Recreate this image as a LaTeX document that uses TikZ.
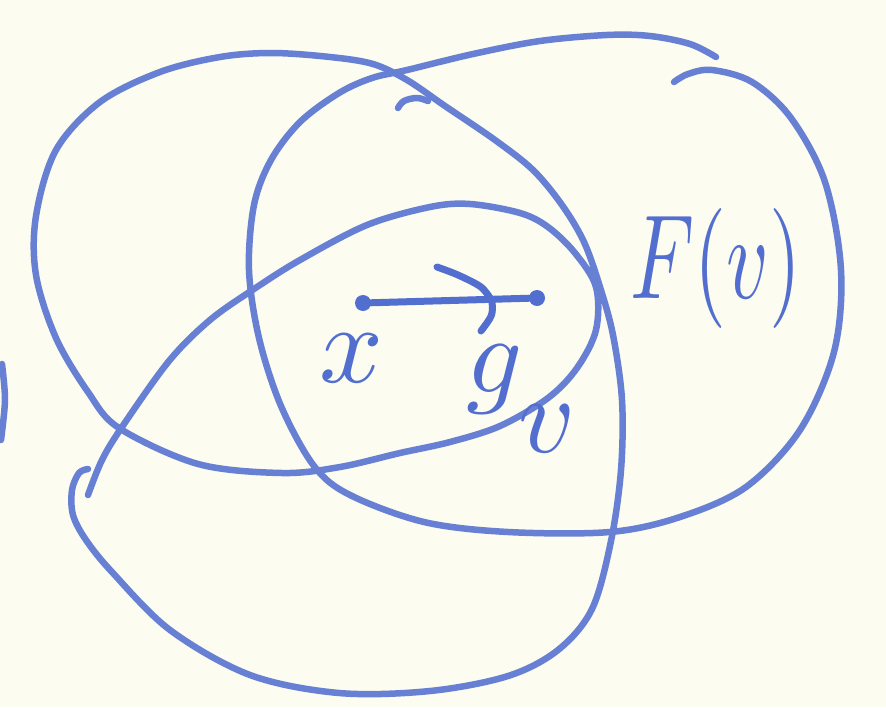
\documentclass[tikz,border=0pt]{standalone}
\usepackage{graphicx}
\definecolor{paper}{RGB}{252,252,241}
\definecolor{sketch}{RGB}{104,128,212}
\definecolor{ink}{RGB}{82,110,206}
\tikzset{
  stroke/.style={draw=sketch, line width=6.5pt, line cap=round, line join=round},
  inkstroke/.style={draw=ink, line width=7pt, line cap=round, line join=round},
  dotnode/.style={circle, fill=ink, inner sep=0pt, minimum size=16pt},
  label/.style={text=ink, inner sep=0pt}
}
\begin{document}
\begin{tikzpicture}[x=1pt,y=-1pt]
\fill[paper] (0,0) rectangle (886,707);
\useasboundingbox (0,0) rectangle (886,707);

% big loop: middle arc, upper-left ellipse, bottom loop
\draw[stroke] plot[smooth, tension=0.55] coordinates {
 (88,495) (102,460) (122,427) (169,361) (210,320) (254,289) (300,260)
 (367,225) (430,207) (470,204) (520,213) (548,227) (575,253) (596,287)
 (596,330) (577,368) (548,398) (500,426) (450,442) (400,453) (340,467)
 (282,473) (198,464) (119,428) (88,392) (56,338) (36,275) (36,216)
 (56,150) (100,102) (160,72) (220,57) (272,53) (330,57) (373,64)
 (407,80) (445,106) (495,140) (533,170) (562,205) (584,242) (600,287)
 (613,335) (622,400) (621,470) (611,541) (592,609) (558,650) (508,676)
 (430,691) (339,693) (250,675) (170,630) (112,572) (86,540) (73,515)
 (72,490) (79,473) (88,469)};

% small hook near top crossing
\draw[stroke] plot[smooth, tension=0.6] coordinates {(398,108) (404,101) (417,98) (428,101)};

% big right loop
\draw[stroke] plot[smooth, tension=0.55] coordinates {
 (716,57) (690,44) (650,36) (607,35) (540,41) (473,54) (407,70)
 (372,78) (339,93) (300,122) (271,160) (254,205) (249,270) (259,338)
 (281,406) (314,466) (350,495) (424,522) (508,532) (610,532) (680,517)
 (746,487) (800,430) (834,352) (841,270) (825,182) (791,118) (752,82)
 (712,70) (688,74) (674,82)};

% tiny arc at the left edge
\draw[stroke] plot[smooth] coordinates {(2,364) (5,400) (1,440)};

% arrow between the two points
\node[dotnode] (xdot) at (363,303) {};
\node[dotnode] (gdot) at (537,298) {};
\draw[inkstroke] (xdot) -- (gdot);
\coordinate (tip) at (492,301);
\draw[inkstroke] plot[smooth, tension=0.5] coordinates {(437,267) (458,275) (481,287) (tip)};
\draw[inkstroke] (tip) .. controls (493,315) .. (481,331);

% labels
\node[label] (xlab) at (352,358) {\scalebox{11.2}{$x$}};
\node[label, anchor=base west] (glab) at (466,392) {\scalebox{11}{$g_{\raisebox{-4pt}{$v$}}$}};
\node[label] (flab) at (716,268) {\scalebox{8.2}[12]{$F(v)$}};
\end{tikzpicture}
\end{document}
